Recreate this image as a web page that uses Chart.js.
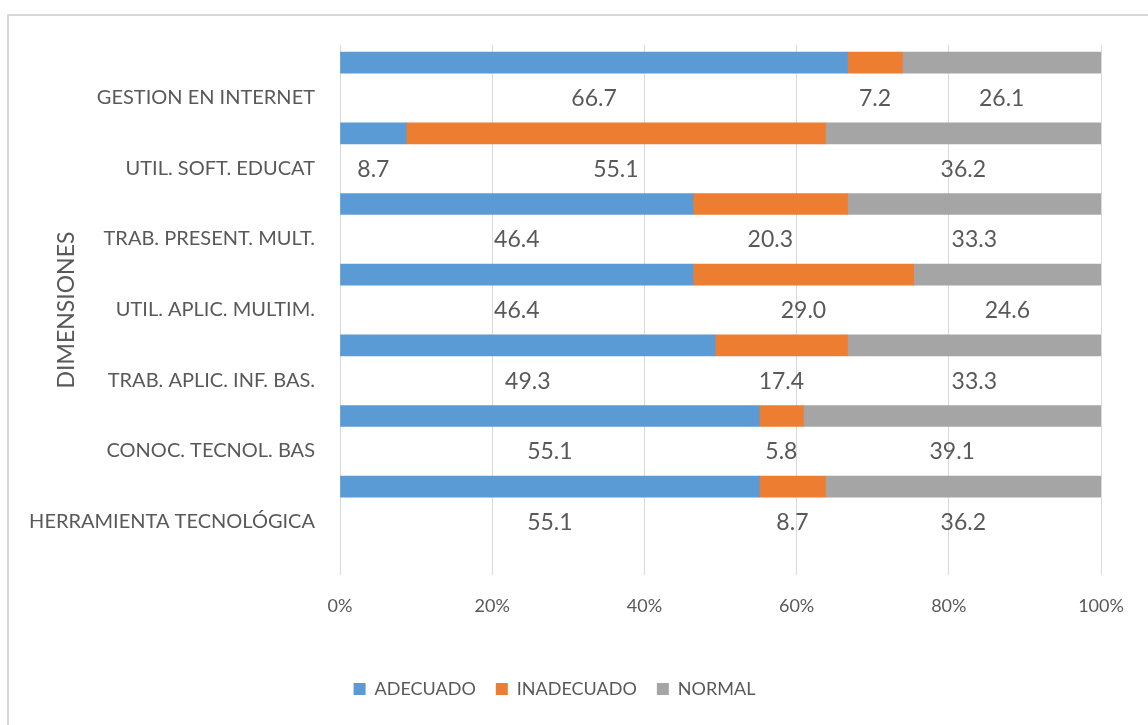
<!DOCTYPE html>
<html>
<head>
<meta charset="utf-8">
<script src="https://cdn.jsdelivr.net/npm/chart.js@4"></script>
<style>
  html, body { margin: 0; padding: 0; background: #fff; }
  #wrap { position: relative; width: 1148px; height: 725px; overflow: hidden; }
  #frame { position: absolute; left: 7px; top: 14px; width: 1200px; height: 800px;
           border-top: 2px solid #d9d9d9; border-left: 2px solid #d9d9d9; }
  canvas { position: absolute; left: 0; top: 0; }
</style>
</head>
<body>
<div id="wrap">
  <div id="frame"></div>
  <canvas id="c" width="1148" height="725"></canvas>
</div>
<script>
// ---- data ----
const categories = [
  "GESTION EN INTERNET",
  "UTIL. SOFT. EDUCAT",
  "TRAB. PRESENT. MULT.",
  "UTIL. APLIC. MULTIM.",
  "TRAB. APLIC. INF. BAS.",
  "CONOC. TECNOL. BAS",
  "HERRAMIENTA TECNOLÓGICA"
];
const adecuado   = [66.7, 8.7, 46.4, 46.4, 49.3, 55.1, 55.1];
const inadecuado = [7.2, 55.1, 20.3, 29.0, 17.4, 5.8, 8.7];
const normal     = [26.1, 36.2, 33.3, 24.6, 33.3, 39.1, 36.2];
const seriesNames = ["ADECUADO", "INADECUADO", "NORMAL"];
const xTicks = [0, 20, 40, 60, 80, 100];
const axisTitle = "DIMENSIONES";

// ---- chart ----
const TEXT = '#595959';
Chart.defaults.font.family = 'Lato, "Open Sans", sans-serif';
Chart.defaults.color = TEXT;

const toPts = arr => arr.map((v, i) => ({ x: v, y: i }));

const valueLabels = {
  id: 'valueLabels',
  afterDatasetsDraw(chart) {
    const ctx = chart.ctx;
    ctx.save();
    ctx.font = '23px Lato, "Open Sans", sans-serif';
    ctx.fillStyle = TEXT;
    ctx.textAlign = 'center';
    ctx.textBaseline = 'middle';
    chart.data.datasets.forEach((ds, di) => {
      const meta = chart.getDatasetMeta(di);
      meta.data.forEach((bar, j) => {
        const v = ds.data[j].x;
        const cx = (bar.x + bar.base) / 2;
        ctx.fillText(v.toFixed(1), cx, bar.y + 36);
      });
    });
    ctx.restore();
  }
};

new Chart(document.getElementById('c'), {
  type: 'bar',
  data: {
    datasets: [
      { label: seriesNames[0], data: toPts(adecuado),   backgroundColor: '#5B9BD5' },
      { label: seriesNames[1], data: toPts(inadecuado), backgroundColor: '#ED7D31' },
      { label: seriesNames[2], data: toPts(normal),     backgroundColor: '#A5A5A5' }
    ]
  },
  options: {
    indexAxis: 'y',
    responsive: false,
    animation: false,
    devicePixelRatio: 1,
    barThickness: 21,
    layout: { padding: { left: 8, top: 45, right: 47, bottom: 17 } },
    plugins: {
      legend: {
        position: 'bottom',
        labels: { boxWidth: 12, boxHeight: 12, padding: 20, color: TEXT,
                  font: { size: 18 } }
      },
      tooltip: { enabled: false }
    },
    scales: {
      x: {
        stacked: true,
        min: 0, max: 100,
        afterBuildTicks: s => { s.ticks = xTicks.map(v => ({ value: v })); },
        afterFit: s => { s.height = 85; },
        ticks: { callback: v => v + '%', padding: 20, font: { size: 18 }, color: TEXT },
        grid: { color: '#d9d9d9', lineWidth: 1, drawTicks: false },
        border: { display: false }
      },
      y: {
        type: 'linear',
        stacked: true,
        reverse: true,
        offset: false,
        min: -0.25, max: 7.25,
        afterBuildTicks: s => { s.ticks = categories.map((c, i) => ({ value: i })); },
        afterFit: s => { s.width = 332; },
        ticks: {
          callback: v => categories[v] !== undefined ? categories[v] : '',
          labelOffset: 35,
          padding: 25,
          font: { size: 20 },
          color: TEXT
        },
        grid: { display: false, drawTicks: false, offset: false },
        border: { display: false },
        title: { display: true, text: axisTitle, color: TEXT,
                 font: { size: 23 }, padding: { top: 45, bottom: 0 } }
      }
    }
  },
  plugins: [valueLabels]
});
</script>
</body>
</html>
